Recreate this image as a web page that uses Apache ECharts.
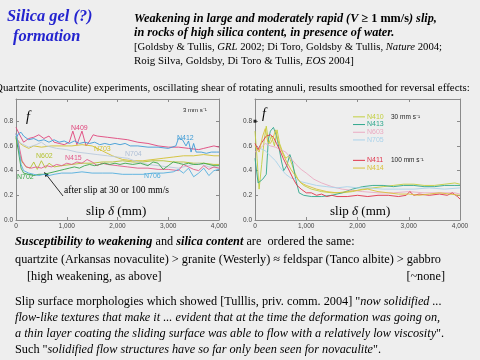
<!DOCTYPE html>
<html><head><meta charset="utf-8">
<script src="https://cdn.jsdelivr.net/npm/echarts@6/dist/echarts.min.js"></script>
<style>html,body{margin:0;padding:0;background:#eeeeee;}#c{width:480px;height:360px;}</style>
</head><body><div id="c"></div>
<script>
// ---- tick labels ----
const xTicks = [0, 1000, 2000, 3000, 4000];
const yTicks = [0, 0.2, 0.4, 0.6, 0.8];

// ---- left panel: 3 mm/s (slip mm, friction f) ----
const N409 = [[0,0.75],[60,0.70],[150,0.63],[250,0.66],[350,0.67],[450,0.69],[550,0.66],[650,0.68],[750,0.63],[850,0.62],[950,0.61],[1050,0.63],[1120,0.72],[1200,0.61],[1300,0.72],[1380,0.60],[1450,0.64],[1520,0.69],[1600,0.68],[1800,0.67],[2000,0.66],[2200,0.65],[2400,0.63],[2600,0.62],[2800,0.60],[3000,0.59],[3200,0.59],[3400,0.58],[3600,0.57],[3700,0.58],[3800,0.59],[3900,0.60],[4000,0.59]];
const N412 = [[0,0.66],[50,0.70],[100,0.71],[150,0.68],[250,0.65],[350,0.66],[450,0.64],[550,0.65],[650,0.63],[750,0.65],[850,0.63],[950,0.64],[1050,0.62],[1150,0.64],[1250,0.62],[1350,0.63],[1450,0.62],[1550,0.63],[1650,0.61],[1750,0.62],[1850,0.61],[1950,0.62],[2050,0.61],[2150,0.62],[2250,0.60],[2400,0.60],[2600,0.59],[2800,0.59],[3000,0.58],[3150,0.60],[3200,0.66],[3280,0.65],[3350,0.60],[3400,0.64],[3450,0.55],[3500,0.62],[3550,0.55],[3650,0.55],[3750,0.54],[3850,0.55],[3950,0.55],[4000,0.55]];
const N703 = [[0,0.67],[80,0.62],[150,0.60],[250,0.58],[350,0.60],[500,0.59],[700,0.60],[900,0.60],[1100,0.60],[1300,0.61],[1500,0.60],[1700,0.56],[1900,0.52],[2100,0.49],[2300,0.48],[2500,0.48],[2700,0.49],[2900,0.50],[3100,0.51],[3300,0.52],[3500,0.52],[3700,0.53],[3900,0.52],[4000,0.52]];
const N602 = [[0,0.66],[60,0.55],[120,0.47],[200,0.43],[280,0.42],[350,0.47],[420,0.41],[500,0.48],[580,0.42],[650,0.46],[750,0.43],[900,0.44],[1100,0.45],[1300,0.46],[1500,0.46],[1700,0.47],[1900,0.47],[2100,0.48],[2300,0.47],[2500,0.47],[2700,0.48],[2900,0.48],[3100,0.47],[3300,0.47],[3500,0.46],[3700,0.46],[3900,0.45],[4000,0.45]];
const N704 = [[0,0.66],[100,0.62],[250,0.59],[400,0.61],[500,0.63],[600,0.60],[800,0.58],[1000,0.57],[1200,0.55],[1400,0.54],[1600,0.53],[1800,0.52],[2000,0.51],[2200,0.50],[2400,0.47],[2600,0.45],[2800,0.44],[3000,0.43],[3200,0.42],[3400,0.44],[3600,0.46],[3800,0.43],[4000,0.42]];
const N415 = [[0,0.70],[60,0.60],[120,0.48],[200,0.43],[300,0.42],[400,0.43],[500,0.42],[600,0.44],[700,0.43],[800,0.45],[900,0.44],[1000,0.46],[1100,0.45],[1200,0.47],[1300,0.46],[1400,0.49],[1500,0.47],[1600,0.44],[1700,0.46],[1800,0.45],[2000,0.44],[2200,0.43],[2400,0.42],[2600,0.42],[2800,0.41],[3000,0.41],[3200,0.40],[3300,0.45],[3400,0.43],[3500,0.41],[3600,0.40],[3700,0.44],[3800,0.41],[3900,0.43],[4000,0.42]];
const N702 = [[0,0.68],[50,0.55],[100,0.42],[150,0.38],[250,0.37],[350,0.36],[450,0.37],[550,0.37],[650,0.38],[750,0.39],[850,0.40],[950,0.41],[1050,0.42],[1150,0.43],[1250,0.42],[1350,0.44],[1450,0.45],[1550,0.44],[1650,0.45],[1750,0.46],[1850,0.45],[1950,0.46],[2050,0.45],[2150,0.46],[2300,0.45],[2450,0.46],[2600,0.44],[2700,0.47],[2800,0.46],[2900,0.41],[3000,0.44],[3100,0.47],[3200,0.46],[3300,0.45],[3400,0.46],[3500,0.45],[3600,0.45],[3700,0.46],[3800,0.45],[3900,0.44],[4000,0.44]];
const N706 = [[0,0.70],[50,0.60],[100,0.45],[150,0.40],[250,0.38],[350,0.37],[450,0.36],[550,0.37],[650,0.36],[750,0.37],[900,0.38],[1100,0.38],[1300,0.39],[1500,0.38],[1700,0.38],[1900,0.38],[2100,0.37],[2300,0.37],[2500,0.37],[2700,0.38],[2900,0.38],[3100,0.39],[3200,0.41],[3300,0.38],[3400,0.42],[3500,0.35],[3600,0.38],[3700,0.42],[3800,0.36],[3900,0.40],[4000,0.41]];

// ---- right panel: 30 and 100 mm/s ----
const N410 = [[0,0.72],[40,0.50],[80,0.25],[130,0.45],[180,0.65],[220,0.76],[270,0.62],[320,0.68],[380,0.60],[430,0.73],[480,0.62],[540,0.55],[600,0.50],[660,0.52],[720,0.45],[780,0.38],[850,0.32],[950,0.28],[1100,0.25],[1300,0.23],[1500,0.22],[1700,0.22],[1900,0.23],[2100,0.25],[2300,0.26],[2500,0.27],[2700,0.28],[2900,0.29],[3100,0.29],[3300,0.28],[3500,0.28],[3700,0.29],[3900,0.30],[4000,0.29]];
const N413 = [[0,0.50],[60,0.30],[150,0.33],[220,0.37],[260,0.65],[300,0.72],[360,0.75],[420,0.68],[470,0.58],[520,0.47],[560,0.40],[620,0.44],[680,0.53],[730,0.47],[800,0.32],[860,0.22],[950,0.20],[1100,0.19],[1300,0.19],[1500,0.20],[1700,0.22],[1900,0.25],[2100,0.27],[2300,0.28],[2500,0.28],[2700,0.27],[2900,0.28],[3100,0.28],[3300,0.27],[3500,0.27],[3700,0.28],[3900,0.28],[4000,0.28]];
const N603 = [[0,0.55],[100,0.58],[200,0.62],[300,0.60],[400,0.59],[500,0.57],[600,0.55],[700,0.50],[800,0.45],[900,0.41],[1000,0.38],[1150,0.33],[1300,0.30],[1500,0.27],[1700,0.25],[1900,0.24],[2100,0.23],[2400,0.22],[2700,0.22],[3000,0.23],[3300,0.22],[3600,0.22],[3900,0.22],[4000,0.21]];
const N705 = [[0,0.60],[100,0.58],[200,0.56],[300,0.52],[400,0.48],[500,0.42],[600,0.37],[700,0.34],[800,0.33],[900,0.31],[1000,0.30],[1200,0.28],[1400,0.27],[1600,0.26],[1800,0.27],[2000,0.26],[2200,0.26],[2500,0.25],[2800,0.25],[3100,0.25],[3400,0.26],[3700,0.25],[4000,0.26]];
const N411 = [[0,0.62],[60,0.57],[120,0.62],[170,0.65],[220,0.68],[300,0.69],[360,0.67],[420,0.62],[480,0.57],[550,0.50],[620,0.44],[680,0.39],[750,0.33],[820,0.28],[900,0.25],[1000,0.22],[1100,0.22],[1200,0.20],[1300,0.21],[1400,0.19],[1500,0.20],[1600,0.19],[1800,0.19],[2000,0.20],[2200,0.19],[2400,0.20],[2600,0.20],[2800,0.19],[2950,0.20],[3020,0.23],[3100,0.20],[3200,0.21],[3400,0.20],[3600,0.21],[3750,0.20],[3850,0.22],[3950,0.19],[4000,0.17]];
const N414 = [[0,0.60],[80,0.55],[150,0.68],[200,0.74],[250,0.63],[300,0.62],[350,0.66],[400,0.73],[450,0.64],[500,0.58],[560,0.52],[620,0.47],[700,0.41],[800,0.35],[900,0.30],[1000,0.28],[1200,0.25],[1400,0.23],[1600,0.22],[1800,0.23],[2000,0.24],[2200,0.25],[2400,0.23],[2600,0.22],[2800,0.21],[3000,0.21],[3200,0.20],[3400,0.21],[3600,0.22],[3800,0.21],[4000,0.20]];
const initialF = [[0,0.80]];

const leftSeries = [['N409',N409],['N412',N412],['N703',N703],['N602',N602],['N704',N704],['N415',N415],['N702',N702],['N706',N706]];
const rightSeries = [['N410',N410],['N413',N413],['N603',N603],['N705',N705],['N411',N411],['N414',N414]];
const legend30 = ['N410','N413','N603','N705'];
const legend100 = ['N411','N414'];

// ---- styles ----
const COLORS = {N409:'#e0457c',N412:'#3d9bd6',N703:'#d2c030',N602:'#b4c232',N704:'#b9c9dc',N415:'#e25a8a',N702:'#3aa64a',N706:'#52aede',
  N410:'#c2cf3e',N413:'#2fa78c',N603:'#eaaac2',N705:'#a9d2ea',N411:'#e0324a',N414:'#d9c13a'};
const SERIF = '"Liberation Serif","Times New Roman",serif';
const SANS = '"Liberation Sans",Arial,sans-serif';
const AX = '#8a8a8a';

function xAx(g, pos){
  return {type:'value', gridIndex:g, position:pos, min:0, max:4000, interval:1000,
    axisLine:{show:true, onZero:false, lineStyle:{color:AX, width:1}},
    axisTick:{show:true, inside:true, length:3, lineStyle:{color:AX}},
    axisLabel:{show:pos==='bottom', fontSize:6.5, color:'#444', fontFamily:SANS, margin:3,
      formatter:v=>xTicks.includes(v)?v.toLocaleString('en-US'):''},
    splitLine:{show:false}};
}
function yAx(g, pos){
  return {type:'value', gridIndex:g, position:pos, min:0, max:0.98, interval:0.2,
    axisLine:{show:true, onZero:false, lineStyle:{color:AX, width:1}},
    axisTick:{show:true, inside:true, length:3, lineStyle:{color:AX}},
    axisLabel:{show:pos==='left', showMaxLabel:false, fontSize:6.5, color:'#444', fontFamily:SANS, margin:3,
      formatter:v=>yTicks.some(t=>Math.abs(t-v)<1e-6)?v.toFixed(1):''},
    splitLine:{show:false}};
}

const series = [];
leftSeries.forEach(([n,d])=>series.push({name:n,type:'line',xAxisIndex:0,yAxisIndex:0,data:d,showSymbol:false,symbol:'none',
  lineStyle:{width:0.9,color:COLORS[n]},itemStyle:{color:COLORS[n]},silent:true}));
rightSeries.forEach(([n,d])=>series.push({name:n,type:'line',xAxisIndex:2,yAxisIndex:2,data:d,showSymbol:false,symbol:'none',
  lineStyle:{width:0.9,color:COLORS[n]},itemStyle:{color:COLORS[n]},silent:true}));
series.push({name:'start',type:'scatter',xAxisIndex:2,yAxisIndex:2,data:initialF,symbol:'rect',symbolSize:3,itemStyle:{color:'#000'},silent:true,clip:false});

function lg(names, top){
  return {show:true, orient:'vertical', left:353, top:top, padding:0, itemGap:0, itemWidth:12, itemHeight:1, icon:'rect',
    selectedMode:false, data:names.map(n=>({name:n, textStyle:{color:COLORS[n]}})),
    textStyle:{fontSize:7, fontFamily:SANS, lineHeight:7.7, padding:[0,0,0,-3]}};
}

function txt(x,y,text,opt){
  return {type:'text', x:x, y:y, silent:true, style:Object.assign({text:text, fill:'#000', fontFamily:SERIF, fontSize:11, align:'left', verticalAlign:'middle'}, opt||{})};
}
function rich(size){
  return {n:{fontFamily:SERIF,fontSize:size,fill:'#000'},
          i:{fontFamily:SERIF,fontSize:size,fontStyle:'italic',fill:'#000'},
          b:{fontFamily:SERIF,fontSize:size,fontWeight:'bold',fill:'#000'},
          bi:{fontFamily:SERIF,fontSize:size,fontStyle:'italic',fontWeight:'bold',fill:'#000'}};
}
function lab(x,y,t,c,size){ return txt(x,y,t,{fontFamily:SANS,fontSize:size||7,fill:c}); }

const BS = 12.25;
const graphic = [
  txt(7,17,'Silica gel (?)',{fontSize:16.4,fontWeight:'bold',fontStyle:'italic',fill:'#2424cf'}),
  txt(13,36.5,'formation',{fontSize:16.4,fontWeight:'bold',fontStyle:'italic',fill:'#2424cf'}),
  txt(134,18.5,'{bi|Weakening in large and moderately rapid (V ≥ }{b|1 mm/s}{bi|) slip,}',{rich:rich(12.25)}),
  txt(134,33,'{bi|in rocks of high silica content, in presence of water.}',{rich:rich(12.25)}),
  txt(134,47,'{n|[Goldsby & Tullis, }{i|GRL}{n| 2002; Di Toro, Goldsby & Tullis, }{i|Nature}{n| 2004;}',{rich:rich(10.7)}),
  txt(134,61,'{n|Roig Silva, Goldsby, Di Toro & Tullis, }{i|EOS}{n| 2004]}',{rich:rich(10.9)}),
  txt(-5,88.5,'Quartzite (novaculite) experiments, oscillating shear of rotating annuli, results smoothed for reversal effects:',{fontSize:10.95}),
  // left panel annotations
  txt(26,117,'f',{fontSize:14,fontStyle:'italic'}),
  lab(71,128,'N409',COLORS.N409), lab(177,138,'N412',COLORS.N412), lab(94,149,'N703',COLORS.N703),
  lab(125,154,'N704','#aebfd6'), lab(36,156,'N602',COLORS.N602), lab(65,158,'N415',COLORS.N415),
  lab(17,177,'N702',COLORS.N702), lab(144,176,'N706',COLORS.N706),
  lab(183,110,'3 mm s⁻¹','#222',6),
  txt(64,190.5,'after slip at 30 or 100 mm/s',{fontSize:9.5}),
  {type:'polyline', silent:true, shape:{points:[[63,196],[47,175.5]]}, style:{stroke:'#000', lineWidth:0.8}},
  {type:'polygon', silent:true, shape:{points:[[44,172],[48.7,174.7],[45.5,177.1]]}, style:{fill:'#000'}},
  txt(86,212,'{n|slip }{i|δ}{n| (mm)}',{rich:rich(13)}),
  // right panel annotations
  txt(262,114,'f',{fontSize:14,fontStyle:'italic'}),
  lab(391,117,'30 mm s⁻¹','#222',6.5),
  lab(391,160.5,'100 mm s⁻¹','#222',6.5),
  txt(330,212,'{n|slip }{i|δ}{n| (mm)}',{rich:rich(13)}),
  // bottom text
  txt(15,242,'{bi|Susceptibility to weakening}{n| and }{bi|silica content}{n| are  ordered the same:}',{rich:rich(BS)}),
  txt(15,260,'quartzite (Arkansas novaculite) > granite (Westerly) ≈ feldspar (Tanco albite) > gabbro',{fontSize:BS}),
  txt(27,276.5,'[high weakening, as above]',{fontSize:BS}),
  txt(445,276.5,'[~none]',{fontSize:BS,align:'right'}),
  txt(15,301.5,'{n|Slip surface morphologies which showed [Tulllis, priv. comm. 2004] "}{i|now solidified ...}',{rich:rich(BS)}),
  txt(15,317.5,'{i|flow-like textures that make it ... evident that at the time the deformation was going on,}',{rich:rich(BS)}),
  txt(15,333.5,'{i|a thin layer coating the sliding surface was able to flow with a relatively low viscosity}{n|".}',{rich:rich(BS)}),
  txt(15,349.5,'{n|Such "}{i|solidified flow structures have so far only been seen for novaculite}{n|".}',{rich:rich(BS)})
];

const chart = echarts.init(document.getElementById('c'), null, {renderer:'canvas'});
chart.setOption({
  backgroundColor:'#eeeeee',
  animation:false,
  grid:[{left:16, top:99, width:203, height:121},{left:255, top:99, width:205, height:121}],
  xAxis:[xAx(0,'bottom'), xAx(0,'top'), xAx(1,'bottom'), xAx(1,'top')],
  yAxis:[yAx(0,'left'), yAx(0,'right'), yAx(1,'left'), yAx(1,'right')],
  legend:[lg(legend30,113), lg(legend100,156.5)],
  series:series,
  graphic:graphic
});
</script></body></html>
